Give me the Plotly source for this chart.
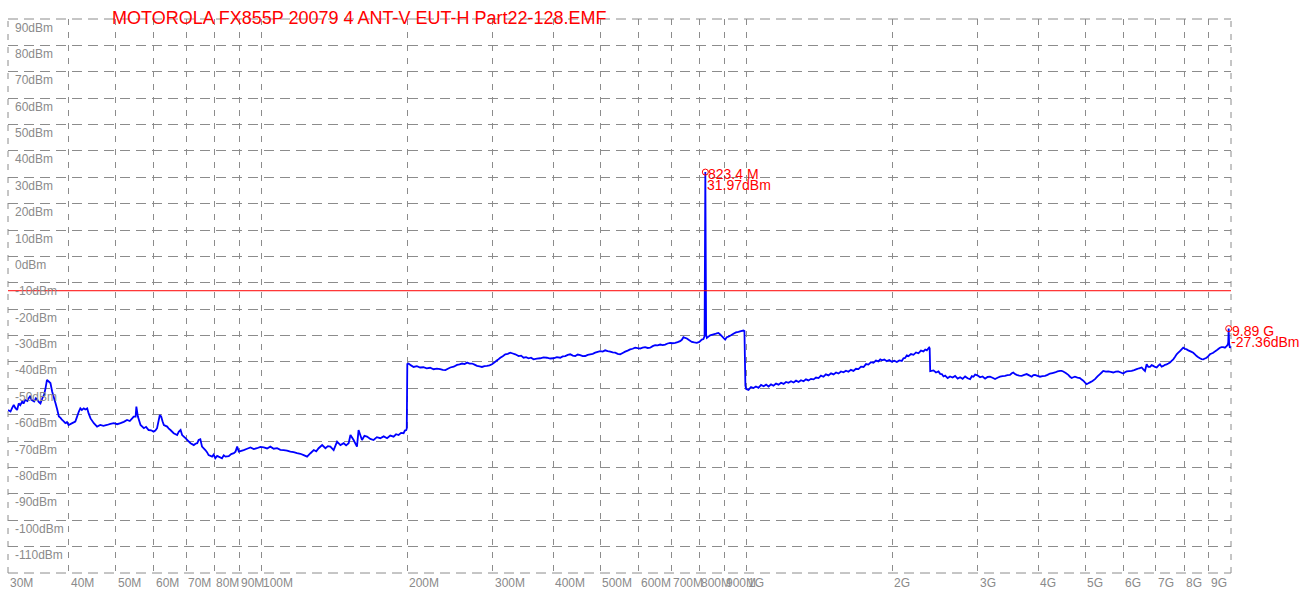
import math
import plotly.graph_objects as go

title_text = "MOTOROLA FX855P 20079 4 ANT-V EUT-H Part22-128.EMF"

# Trace: frequency (MHz) and level (dBm)
freq_mhz = [
    30.0, 30.36, 30.6, 30.83, 31.08, 31.33, 31.57, 31.8, 32.1, 32.3, 32.55, 32.9, 33.07, 33.3, 33.6, 33.97,
    34.25, 34.5, 34.75, 35.0, 35.3, 35.6, 35.85, 36.1, 36.4, 36.7, 37.0, 37.3, 37.6, 37.9, 38.2, 38.5, 38.8,
    39.1, 39.4, 39.7, 40.0,
    40.7, 41.3, 41.6, 42.0, 42.3, 42.6, 43.0, 43.3, 43.7, 44.0, 44.4, 45.1, 45.8, 46.5, 47.2, 48.0, 48.8,
    49.6, 50.4, 51.2, 52.0, 52.8, 53.5, 54.1, 54.5, 55.0, 55.2, 55.6, 56.3, 57.2, 57.8, 58.5, 59.2, 59.9,
    60.4, 60.9, 61.7, 62.1, 62.5, 62.9, 63.9, 64.4, 64.9, 65.9, 67.0, 67.5, 68.1, 68.6, 69.7, 70.5, 71.4,
    72.5, 73.1, 73.7, 74.2, 74.8, 75.4, 76.6, 77.2, 77.8, 79.1, 79.7, 80.3, 81.0, 81.6, 82.9, 83.6, 84.3,
    85.6, 86.6, 87.7, 88.4, 89.1, 89.8, 91.9, 93.4, 94.9, 96.4, 97.9, 99.5, 101.1, 102.7, 104.3, 106.0,
    107.7, 109.4, 111.1, 112.9, 114.7, 116.5, 118.4, 120.3, 122.2, 124.2, 126.2, 128.2, 129.7, 131.2,
    133.4, 135.5, 137.1, 138.7, 140.9, 143.2, 145.5, 147.8, 149.5, 151.3, 152.6, 154.9, 157.4, 158.6,
    161.2, 163.1, 165.1, 167.7, 170.3, 173.0, 175.8, 178.7, 181.6, 184.4, 187.3, 189.5, 191.8, 194.1,
    196.4, 197.6, 198.9, 199.4,
    199.9, 201.1, 203.5, 206.0, 209.2, 212.5, 215.8, 219.2, 222.8, 226.5, 230.1, 233.7, 236.6, 239.6,
    242.4, 245.2, 249.2, 253.2, 256.2, 259.3, 262.4, 265.6, 268.7, 271.9, 275.1, 278.4, 281.7, 285.0,
    288.4, 291.9, 295.4, 298.9, 303.6, 307.2, 310.9, 314.6, 318.4, 322.2, 326.0, 329.9, 333.9, 339.2,
    343.2, 347.3, 351.4, 355.6, 359.8, 364.1, 369.9, 375.8, 381.8, 388.0, 394.1, 400.3, 406.7, 413.3,
    418.2, 423.3, 428.4, 433.5, 438.7, 443.9, 449.2, 454.5, 460.0, 465.4, 471.0, 476.6, 482.3, 488.0,
    493.9, 499.8, 505.7, 511.7, 517.8, 524.1, 530.3, 536.7, 543.0, 549.5, 556.1, 562.7, 569.4, 576.2,
    583.0, 590.0, 597.0, 604.2, 611.4, 618.7, 626.1, 633.6, 641.2, 648.8, 656.5, 664.4, 672.3, 680.3,
    688.4, 696.7, 705.0, 713.5, 722.0, 730.6, 736.4, 742.2, 748.2, 754.2, 763.2, 772.3, 781.5, 790.8,
    800.2, 809.8, 816.0, 820.5, 823.4, 826.5, 829.3, 835.8, 842.4, 852.4, 862.6, 869.4, 876.2, 883.4,
    890.6, 897.6, 904.6, 911.7, 918.9, 930.0, 941.0, 952.2, 963.6, 975.1, 986.8, 991.5,
    996.0, 1000.0, 1011, 1023, 1035, 1047, 1060, 1073, 1086, 1099, 1112, 1125, 1138, 1152, 1166, 1180,
    1194, 1208, 1222, 1237, 1252, 1267, 1282, 1297, 1313, 1328, 1344, 1360, 1377, 1393, 1410, 1426,
    1443, 1460, 1478, 1496, 1514, 1532, 1550, 1568, 1587, 1606, 1625, 1644, 1664, 1684, 1704, 1725,
    1746, 1766, 1787, 1808, 1830, 1852, 1874, 1890, 1905, 1927, 1950, 1973, 1997, 2021, 2045, 2069,
    2094, 2110, 2127, 2144, 2161, 2187, 2213, 2240, 2266, 2293, 2320, 2340, 2358, 2384, 2390, 2396,
    2434, 2463, 2492, 2512, 2532, 2552, 2572, 2603, 2633, 2665, 2697, 2730, 2762, 2795, 2828, 2862,
    2896, 2920, 2942, 2966, 2990, 3013, 3037, 3073, 3110, 3147,
    3183, 3222, 3260, 3299, 3338, 3378, 3418, 3459, 3500, 3530, 3556, 3585, 3613, 3656, 3700, 3745,
    3789, 3835, 3881, 3912, 3942, 3990, 4037, 4085, 4134, 4183, 4233, 4283, 4334, 4386, 4438, 4473,
    4508, 4562, 4617, 4655, 4692, 4729, 4766, 4823, 4880, 4920, 4958, 5000, 5039, 5078, 5118, 5180,
    5241, 5304, 5367, 5410, 5451, 5517, 5582, 5650, 5716, 5785, 5854, 5924, 5994, 6043, 6092, 6165,
    6238, 6313, 6388, 6465, 6542, 6594, 6646, 6699, 6752, 6806, 6860, 6913, 6970, 7026, 7081, 7136,
    7192, 7249, 7308, 7366, 7424, 7483, 7542, 7601, 7662, 7724, 7785, 7846, 7908, 7970, 8035, 8100,
    8164, 8228, 8293, 8358, 8426, 8494, 8561, 8628, 8697, 8765, 8836, 8907, 8978, 9048, 9120, 9191,
    9266, 9341, 9414, 9487, 9562, 9637, 9715, 9793, 9850, 9870, 9890, 9910, 9948, 10000,
]
level_dbm = [
    -58.2, -58.8, -57.4, -56.3, -57.5, -58.2, -55.7, -56.4, -55.0, -55.8, -54.4, -54.8, -53.8, -53.1, -54.5, -55.0,
    -53.8, -54.4, -55.2, -55.7, -53.8, -52.5, -50.0, -46.8, -47.4, -48.0, -51.2, -53.5, -55.7, -58.0, -60.7, -61.2, -62.0,
    -62.5, -63.2, -62.8, -63.9,
    -63.2, -62.6, -61.0, -58.8, -57.6, -58.2, -57.6, -58.0, -57.6, -59.5, -61.4, -63.2, -64.5, -63.9, -64.2, -63.9, -63.5,
    -63.2, -63.6, -63.2, -62.7, -62.0, -62.4, -61.4, -60.7, -60.7, -56.9, -60.7, -63.9, -65.1, -64.6, -65.8, -65.9, -66.4,
    -66.0, -65.1, -60.1, -60.7, -62.5, -63.9, -64.5, -65.3, -65.8, -67.0, -67.7, -66.5, -65.8, -67.7, -68.9, -69.8, -70.8,
    -71.5, -71.0, -70.8, -69.6, -69.3, -72.1, -73.4, -74.2, -75.3, -75.9, -75.1, -76.5, -75.6, -75.9, -76.5, -75.4, -75.9,
    -75.7, -74.9, -74.6, -74.0, -72.1, -74.0, -73.4, -72.9, -72.4, -73.0, -72.7, -72.2, -72.4, -72.8, -72.1, -72.9,
    -72.7, -73.3, -73.4, -73.6, -74.0, -74.2, -74.6, -74.8, -75.3, -75.9, -74.6, -73.4, -73.9, -72.7,
    -71.5, -72.7, -71.9, -72.1, -73.4, -70.2, -71.5, -70.8, -71.6, -70.8, -67.7, -69.6, -72.1, -65.8,
    -69.6, -68.0, -68.3, -69.2, -69.6, -68.5, -68.9, -68.2, -68.9, -67.9, -68.3, -67.4, -67.7, -66.9,
    -67.0, -66.0, -65.8, -65.2,
    -40.8, -40.6, -41.3, -41.9, -41.6, -42.1, -42.0, -42.4, -42.2, -42.75, -42.5, -42.75, -43.0, -43.1,
    -42.6, -42.1, -41.8, -41.1, -40.9, -40.6, -40.8, -40.25, -40.6, -40.6, -41.0, -41.5, -41.7, -41.9,
    -41.6, -41.5, -41.3, -40.9, -39.9, -39.2, -38.4, -37.8, -37.1, -36.9, -36.5, -36.8, -37.1, -37.75,
    -37.6, -38.4, -38.2, -38.6, -38.4, -39.0, -38.7, -38.6, -38.3, -38.4, -38.7, -38.6, -38.2, -38.4,
    -37.9, -37.75, -37.3, -37.1, -37.6, -37.75, -37.2, -37.4, -37.8, -37.75, -37.3, -37.1, -36.9, -36.5,
    -36.2, -35.9, -36.1, -35.6, -35.9, -36.1, -36.4, -36.5, -36.9, -37.1, -36.6, -36.1, -35.7, -35.25,
    -35.0, -34.6, -34.8, -34.9, -34.6, -34.4, -34.7, -34.6, -34.0, -33.6, -33.7, -33.4, -33.6, -33.4,
    -33.0, -32.75, -32.9, -32.75, -32.5, -32.1, -31.6, -30.6, -30.9, -31.1, -31.8, -32.4, -32.6, -32.75,
    -32.4, -31.5, -31.3, -30.2, 31.97, -29.6, -30.9, -30.4, -29.9, -29.6, -29.4, -29.2, -29.0, -29.6,
    -30.25, -30.9, -31.5, -30.6, -30.4, -29.9, -29.3, -28.8, -28.6, -28.3, -28.1, -28.3,
    -49.0, -50.25, -50.6, -49.5, -49.9, -49.3, -49.8, -48.7, -49.2, -48.6, -49.3, -48.5, -49.0, -48.2, -48.6, -47.9,
    -48.3, -47.6, -47.9, -47.3, -47.8, -47.1, -47.6, -46.9, -47.3, -46.6, -47.0, -46.4, -46.6, -45.9, -46.1, -45.2,
    -45.6, -44.7, -45.1, -44.3, -44.7, -44.0, -44.4, -43.6, -43.9, -43.3, -43.7, -43.0, -43.4, -42.6, -42.7, -41.8,
    -41.9, -40.8, -41.0, -40.1, -40.3, -39.5, -39.8, -39.0, -39.4, -39.1, -39.7, -39.3, -39.9, -39.5, -40.0, -39.4,
    -39.6, -38.6, -38.5, -37.5, -37.8, -37.0, -37.3, -36.4, -36.7, -35.7, -36.0, -35.3, -35.6, -34.5, -34.8, -43.5,
    -43.2, -44.0, -43.6, -44.5, -44.6, -45.5, -45.2, -46.1, -45.5, -45.9, -45.3, -46.3, -45.8, -46.4, -45.5, -46.2,
    -46.5, -45.4, -45.6, -44.8, -45.0, -45.3, -45.8, -45.5, -46.3, -45.7,
    -45.6, -46.0, -46.5, -46.0, -45.6, -45.4, -45.25, -45.0, -44.9, -44.3, -44.0, -44.6, -44.9, -45.2, -45.25, -44.9,
    -44.6, -45.1, -45.6, -45.0, -44.9, -45.3, -45.6, -45.4, -45.25, -44.9, -44.4, -44.2, -44.0, -43.6, -43.4, -43.4,
    -43.6, -44.2, -44.9, -45.6, -46.1, -45.8, -45.6, -45.9, -46.1, -46.7, -47.1, -47.8, -48.4, -48.1, -47.75, -47.2,
    -46.5, -45.5, -44.6, -44.0, -43.4, -43.7, -43.6, -43.8, -44.0, -43.7, -43.6, -44.0, -44.4, -43.9, -43.6, -43.5,
    -43.4, -43.1, -42.75, -42.4, -42.1, -42.8, -43.4, -40.9, -41.9, -41.9, -41.2, -41.5, -41.9, -42.1, -41.4, -40.9,
    -41.8, -41.5, -41.1, -40.9, -40.6, -40.25, -39.6, -39.0, -38.1, -37.1, -36.5, -35.9, -35.2, -34.6, -35.0, -35.25,
    -35.6, -35.9, -36.2, -36.5, -37.1, -37.75, -38.2, -38.6, -38.9, -39.0, -38.7, -38.4, -37.8, -37.1, -36.8, -36.5,
    -36.0, -35.6, -35.1, -34.6, -34.4, -34.4, -34.6, -34.0, -33.4, -32.5, -27.36, -33.0, -34.6, -34.2,
]

marker_freq = [823.4, 9890]
marker_level = [31.97, -27.36]
marker_freq_text = ["823.4 M", "9.89 G"]
marker_level_text = ["31.97dBm", "-27.36dBm"]

limit_dbm = -13

x_tick_vals = [30, 40, 50, 60, 70, 80, 90, 100, 200, 300, 400, 500, 600, 700, 800, 900,
               1000, 2000, 3000, 4000, 5000, 6000, 7000, 8000, 9000]
x_tick_text = ["30M", "40M", "50M", "60M", "70M", "80M", "90M", "100M", "200M", "300M", "400M",
               "500M", "600M", "700M", "800M", "900M", "1G", "2G", "3G", "4G", "5G", "6G", "7G",
               "8G", "9G"]
x_max = 10000
y_tick_vals = [90, 80, 70, 60, 50, 40, 30, 20, 10, 0, -10, -20, -30, -40, -50, -60, -70, -80,
               -90, -100, -110]
y_tick_text = [f"{v}dBm" for v in y_tick_vals]
y_min, y_max = -120, 90

FONT = "Liberation Sans, Arial, sans-serif"
GRID = "#8c8c8c"
LABEL = "#8a8a8a"
H_DASH = "10px,6px"
V_DASH = "6px,7px"

fig = go.Figure()
fig.add_trace(go.Scatter(x=freq_mhz, y=level_dbm, mode="lines",
                         line=dict(color="#0000ff", width=1.8, simplify=False), hoverinfo="skip"))
fig.add_trace(go.Scatter(x=marker_freq, y=marker_level, mode="markers",
                         marker=dict(symbol="circle-open", size=6, color="#ff0000",
                                     line=dict(width=1, color="#ff0000")),
                         hoverinfo="skip", cliponaxis=False))

# dashed frame (edge grid lines)
fig.add_shape(type="line", xref="paper", yref="paper", x0=0, x1=1, y0=1, y1=1,
              line=dict(color=GRID, width=1, dash=H_DASH), layer="below")
fig.add_shape(type="line", xref="paper", yref="paper", x0=0, x1=1, y0=0, y1=0,
              line=dict(color=GRID, width=1, dash=H_DASH), layer="below")
fig.add_shape(type="line", xref="paper", yref="paper", x0=0, x1=0, y0=0, y1=1,
              line=dict(color=GRID, width=1, dash=V_DASH), layer="below")
fig.add_shape(type="line", xref="paper", yref="paper", x0=1, x1=1, y0=0, y1=1,
              line=dict(color=GRID, width=1, dash=V_DASH), layer="below")

fig.add_shape(type="line", xref="paper", x0=0, x1=1, yref="y", y0=limit_dbm, y1=limit_dbm,
              line=dict(color="#ff0000", width=1))

annotations = []
for v, t in zip(y_tick_vals, y_tick_text):
    annotations.append(dict(x=0, xref="paper", xanchor="left", xshift=5,
                            y=v, yref="y", yanchor="middle", yshift=-8.5,
                            text=t, showarrow=False,
                            font=dict(family=FONT, size=12, color=LABEL)))
for v, t in zip(x_tick_vals, x_tick_text):
    annotations.append(dict(x=math.log10(v), xref="x", xanchor="left", xshift=0,
                            y=0, yref="paper", yanchor="middle", yshift=-10,
                            text=t, showarrow=False,
                            font=dict(family=FONT, size=12, color=LABEL)))
for f, l, ft, lt in zip(marker_freq, marker_level, marker_freq_text, marker_level_text):
    annotations.append(dict(x=math.log10(f), xref="x", xanchor="left", xshift=1,
                            y=l, yref="y", yanchor="middle", yshift=-2,
                            text=ft, showarrow=False,
                            font=dict(family=FONT, size=14, color="#ff0000")))
    annotations.append(dict(x=math.log10(f), xref="x", xanchor="left", xshift=0,
                            y=l, yref="y", yanchor="middle", yshift=-13,
                            text=lt, showarrow=False,
                            font=dict(family=FONT, size=14, color="#ff0000")))

fig.update_layout(
    width=1304, height=590,
    margin=dict(l=8, r=73, t=19, b=17),
    paper_bgcolor="white", plot_bgcolor="white",
    showlegend=False,
    title=dict(text=title_text, x=112 / 1304, xanchor="left", xref="container",
               y=1 - 18 / 590, yanchor="middle", yref="container",
               font=dict(family=FONT, size=18, color="#ff0000")),
    xaxis=dict(type="log", range=[math.log10(x_tick_vals[0]), math.log10(x_max)],
               tickvals=x_tick_vals + [x_max], showticklabels=False, ticks="",
               showgrid=True, gridcolor=GRID, gridwidth=1, griddash=V_DASH,
               zeroline=False, showline=False, fixedrange=True),
    yaxis=dict(range=[y_min, y_max], tickvals=list(range(y_min, y_max + 1, 10)),
               showticklabels=False, ticks="",
               showgrid=True, gridcolor=GRID, gridwidth=1, griddash=H_DASH,
               zeroline=False, showline=False, fixedrange=True),
    annotations=annotations,
)

fig.write_html("out.html", config={"displayModeBar": False},
               post_script="document.body.style.margin='0';document.body.style.overflow='hidden';")
